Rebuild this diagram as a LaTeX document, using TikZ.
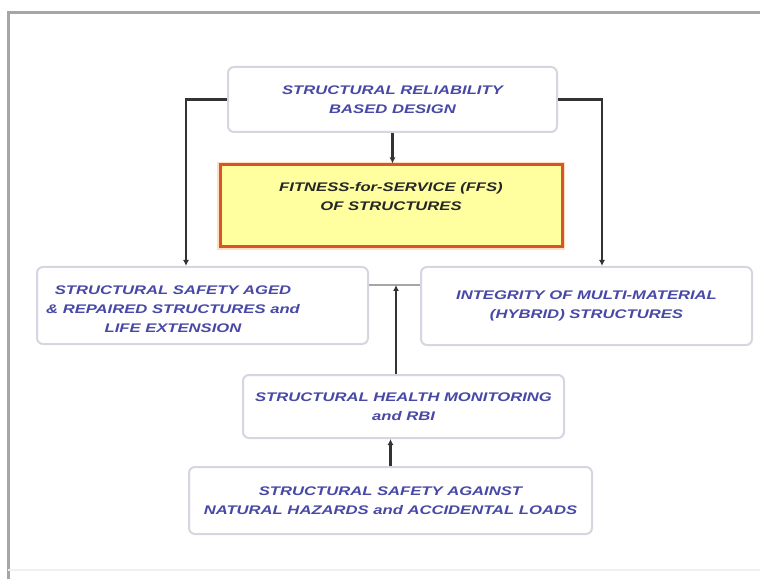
\documentclass[tikz,border=0pt]{standalone}
\usepackage{fontspec}
\newfontfamily\diagfont[FakeStretch=1.33]{Liberation Sans}
\usetikzlibrary{positioning, arrows.meta}
\definecolor{txtblue}{HTML}{4848A6}
\definecolor{boxline}{HTML}{D6D6E2}
\definecolor{ffsred}{HTML}{D9532B}
\definecolor{ffsfill}{HTML}{FFFFA0}

\tikzset{
  box/.style={draw=boxline, line width=2pt, rounded corners=6pt, fill=white},
  bluetxt/.style={text=txtblue, align=center,
    font=\diagfont\fontsize{12.5}{19}\selectfont\bfseries\itshape},
  conn/.style={-{Latex[length=6pt,width=6pt]}, line width=2.4pt, black!80}
}

\begin{document}
\begin{tikzpicture}[x=1pt, y=1pt]
\useasboundingbox (0,0) rectangle (760,579);
% frame
\draw[gray!70, line width=3pt] (8,0) -- (8,566) -- (760,566);
\draw[gray!12, line width=1.5pt] (8,9) -- (760,9);

\node (rel) [box, bluetxt, minimum width=329pt, minimum height=65pt]
  at (392.5,479.5) {STRUCTURAL RELIABILITY\\ BASED DESIGN};
\node (ffs) [draw=ffsred, line width=3pt, fill=ffsfill,
  preaction={draw=orange!25, line width=6pt},
  minimum width=342pt, minimum height=82pt] at (391,373) {};
\node (ffstxt) [bluetxt, text=black!85] at (391,382)
  {FITNESS-for-SERVICE (FFS)\\ OF STRUCTURES};
\node (aged) [box, minimum width=331pt, minimum height=77pt]
  at (202.5,273.5) {};
\node (agedtxt) [bluetxt] at (173,270)
  {STRUCTURAL SAFETY AGED\\ \& REPAIRED STRUCTURES and\\ LIFE EXTENSION};
\node (hyb) [box, bluetxt, minimum width=331pt, minimum height=78pt]
  at (586.5,273) {INTEGRITY OF MULTI-MATERIAL\\ (HYBRID) STRUCTURES};
\node (shm) [box, bluetxt, minimum width=321pt, minimum height=63pt]
  at (403.5,172.5) {STRUCTURAL HEALTH MONITORING\\ and RBI};
\node (nat) [box, bluetxt, minimum width=403pt, minimum height=67pt]
  at (390.5,78.5) {STRUCTURAL SAFETY AGAINST\\ NATURAL HAZARDS and ACCIDENTAL LOADS};

\coordinate (tee) at (396,294);

\draw[conn] (rel.south) -- (rel.south |- ffs.north);
\draw[conn] (rel.west) -| ([xshift=-16.5pt]aged.north);
\draw[conn] (rel.east) -| ([xshift=15.5pt]hyb.north);
\draw[gray!70, line width=2.4pt] (aged.east |- tee) -- (hyb.west |- tee);
\draw[conn] (tee |- shm.north) -- (tee);
\draw[conn] (nat.north) -- (nat.north |- shm.south);
\end{tikzpicture}
\end{document}
